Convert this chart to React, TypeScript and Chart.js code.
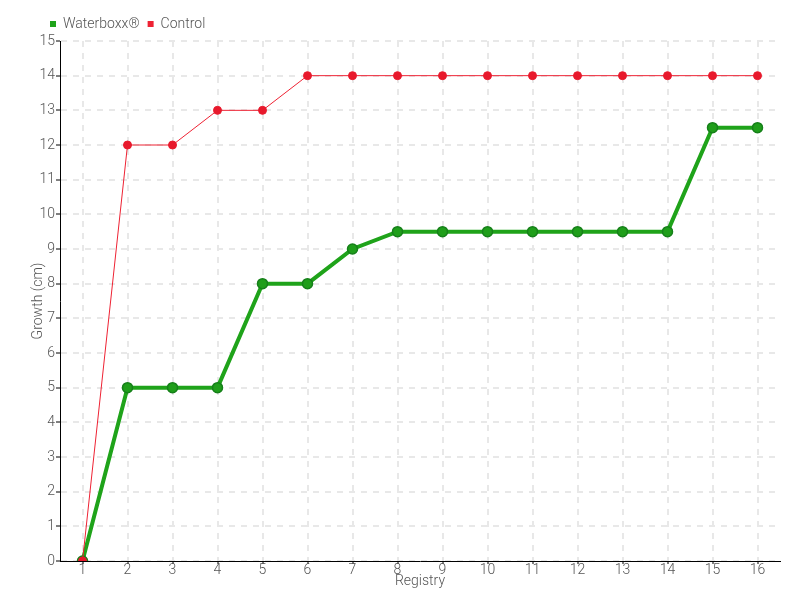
import React, { useEffect, useRef } from "react";
import { Chart, registerables } from "chart.js";

Chart.register(...registerables);

const categories = ["1", "2", "3", "4", "5", "6", "7", "8", "9", "10", "11", "12", "13", "14", "15", "16"];
const waterboxx = [0, 5, 5, 5, 8, 8, 9, 9.5, 9.5, 9.5, 9.5, 9.5, 9.5, 9.5, 12.5, 12.5];
const control = [0, 12, 12, 13, 13, 14, 14, 14, 14, 14, 14, 14, 14, 14, 14, 14];

const FONT = "Roboto, sans-serif";

export default function App() {
  const ref = useRef<HTMLCanvasElement | null>(null);
  useEffect(() => {
    if (!ref.current) return;
    const font = { family: FONT, size: 14, weight: "300", lineHeight: 1 };
    const chart = new Chart(ref.current, {
      type: "line",
      data: {
        labels: categories,
        datasets: [
          {
            label: "Waterboxx®",
            data: waterboxx,
            borderColor: "#1fa31a",
            backgroundColor: "#1fa31a",
            pointBackgroundColor: "#1f9e1a",
            pointBorderColor: "#16801a",
            pointBorderWidth: 1.5,
            pointRadius: 5,
            borderWidth: 4,
            tension: 0,
            order: 1,
          },
          {
            label: "Control",
            data: control,
            borderColor: "#ee2233",
            backgroundColor: "#ee2233",
            pointBackgroundColor: "#e8192c",
            pointBorderColor: "#e8192c",
            pointRadius: 4,
            borderWidth: 1,
            tension: 0,
            order: 0,
          },
        ],
      },
      options: {
        responsive: false,
        animation: false,
        layout: { padding: { left: 0, right: 20, top: 9, bottom: 0 } },
        plugins: {
          legend: {
            position: "top",
            align: "start",
            labels: {
              boxWidth: 6,
              boxHeight: 6,
              color: "#555",
              font: { family: FONT, size: 14, weight: "300" },
              padding: 8,
              generateLabels: (c: any) =>
                c.data.datasets.map((d: any, i: number) => ({
                  text: d.label,
                  fillStyle: d.borderColor,
                  strokeStyle: d.borderColor,
                  lineWidth: 0,
                  hidden: false,
                  datasetIndex: i,
                  fontColor: "#555",
                })),
            },
          },
          tooltip: { enabled: false },
        },
        scales: {
          x: {
            offset: true,
            title: { display: true, text: "Registry", color: "#555", font, padding: { top: -2, bottom: 12 } },
            ticks: { color: "#555", font, padding: -1 },
            grid: { color: "#e8e8e8", lineWidth: 2, tickColor: "#000", tickLength: 3, tickWidth: 1, offset: false, tickBorderDash: [] },
            border: { color: "#000", width: 1, dash: [6, 6] },
          },
          y: {
            min: 0,
            max: 15,
            afterFit: (s: any) => {
              s.width = 60;
            },
            title: { display: true, text: "Growth (cm)", color: "#555", font, padding: { top: 31, bottom: 0 } },
            ticks: { stepSize: 1, color: "#555", font, padding: 1 },
            grid: { color: "#e8e8e8", lineWidth: 2, tickColor: "#000", tickLength: 4, tickWidth: 1, tickBorderDash: [] },
            border: { color: "#000", width: 1, dash: [6, 6] },
          },
        },
      },
      plugins: [
        {
          id: "legendShift",
          afterLayout(c: any) {
            if (c.legend) {
              c.legend.left += 42;
              c.legend.right += 42;
            }
          },
        },
      ],
    });
    return () => chart.destroy();
  }, []);
  return (
    <div style={{ position: "fixed", left: 0, top: 0, width: 800, height: 600, background: "#fff" }}>
      <canvas ref={ref} width={800} height={600} />
    </div>
  );
}
